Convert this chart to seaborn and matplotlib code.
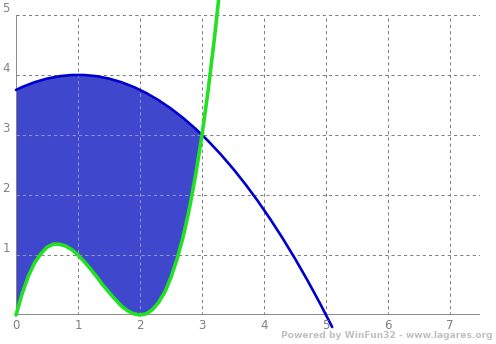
import matplotlib
matplotlib.use("Agg")
import matplotlib.pyplot as plt
import seaborn as sns
import pandas as pd
import numpy as np

# ---- data ----
x_blue = [0.0, 0.1, 0.2, 0.3, 0.4, 0.5, 0.6, 0.7, 0.8, 0.9,
          1.0, 1.1, 1.2, 1.3, 1.4, 1.5, 1.6, 1.7, 1.8, 1.9,
          2.0, 2.1, 2.2, 2.3, 2.4, 2.5, 2.6, 2.7, 2.8, 2.9,
          3.0, 3.1, 3.2, 3.3, 3.4, 3.5, 3.6, 3.7, 3.8, 3.9,
          4.0, 4.1, 4.2, 4.3, 4.4, 4.5, 4.6, 4.7, 4.8, 4.9,
          5.0, 5.1]
y_blue = [3.75, 3.80, 3.84, 3.88, 3.91, 3.94, 3.96, 3.98, 3.99, 4.00,
          4.00, 4.00, 3.99, 3.98, 3.96, 3.94, 3.91, 3.88, 3.84, 3.80,
          3.75, 3.70, 3.64, 3.58, 3.51, 3.44, 3.36, 3.28, 3.19, 3.10,
          3.00, 2.90, 2.79, 2.68, 2.56, 2.44, 2.31, 2.18, 2.04, 1.90,
          1.75, 1.60, 1.44, 1.28, 1.11, 0.94, 0.76, 0.58, 0.39, 0.20,
          0.00, -0.20]
x_green = [0.0, 0.1, 0.2, 0.3, 0.4, 0.5, 0.6, 0.7, 0.8, 0.9,
           1.0, 1.1, 1.2, 1.3, 1.4, 1.5, 1.6, 1.7, 1.8, 1.9,
           2.0, 2.1, 2.2, 2.3, 2.4, 2.5, 2.6, 2.7, 2.8, 2.9,
           3.0, 3.1, 3.2, 3.27]
y_green = [0.00, 0.36, 0.65, 0.87, 1.02, 1.13, 1.18, 1.18, 1.15, 1.09,
           1.00, 0.89, 0.77, 0.64, 0.50, 0.38, 0.26, 0.15, 0.07, 0.02,
           0.00, 0.02, 0.09, 0.21, 0.38, 0.63, 0.94, 1.32, 1.79, 2.35,
           3.00, 3.75, 4.61, 5.27]
x_ticks = [0, 1, 2, 3, 4, 5, 6, 7]
y_ticks = [1, 2, 3, 4, 5]
watermark = "Powered by WinFun32 - www.lagares.org"

sns.set_style("white")
plt.rcParams['font.family'] = ['DejaVu Sans']

W, H = 496, 344
XMAX, YMAX = 7.484, 5.25
fig = plt.figure(figsize=(W / 100, H / 100), dpi=100)
fig.patch.set_facecolor("white")
ax = fig.add_axes([16 / W, 29 / H, 464 / W, 315 / H])
ax.set_xlim(0, XMAX)
ax.set_ylim(0, YMAX)
for s in ax.spines.values():
    s.set_visible(False)
ax.set_xticks([])
ax.set_yticks([])
ax.patch.set_alpha(0)

# filled region between the curves from 0 to 3
n_fill = 31
fill = ax.fill_between(x_green[:n_fill], y_green[:n_fill], y_blue[:n_fill],
                       color="#3f48cc", linewidth=0, zorder=1)

# grid (gray on white, lighter where it crosses the fill)
grid_kw = dict(linestyle=(0, (3, 3)), linewidth=0.75, zorder=2)
ax.vlines(x_ticks[1:], 0, 5, color="#808080", **grid_kw)
ax.hlines(y_ticks, 0, XMAX, color="#808080", **grid_kw)
clip_path = fill.get_paths()[0]
v2 = ax.vlines(x_ticks[1:], 0, 5, color="#8a8fd6", **{**grid_kw, "zorder": 2.5})
h2 = ax.hlines(y_ticks, 0, XMAX, color="#8a8fd6", **{**grid_kw, "zorder": 2.5})
v2.set_clip_path(clip_path, ax.transData)
h2.set_clip_path(clip_path, ax.transData)

# axes lines
ax.plot([0, 0], [0, 5], color="#808080", linewidth=1.3, zorder=3, solid_capstyle="butt")
ax.plot([0, XMAX], [0, 0], color="#808080", linewidth=1.3, zorder=3, solid_capstyle="butt")

# curves
df_b = pd.DataFrame({"x": x_blue, "y": y_blue})
df_g = pd.DataFrame({"x": x_green, "y": y_green})
sns.lineplot(data=df_b, x="x", y="y", ax=ax, color="#0000cc", linewidth=1.9,
             sort=False, estimator=None, zorder=4, clip_on=False)
sns.lineplot(data=df_g, x="x", y="y", ax=ax, color="#22e022", linewidth=2.6,
             sort=False, estimator=None, zorder=5, clip_on=False)
ax.set_xlabel("")
ax.set_ylabel("")

# tick labels
for t in x_ticks:
    ax.text(t, -0.17, str(t), ha="center", va="center", fontsize=8.5,
            color="#808080", zorder=6)
for t in y_ticks:
    ax.text(-0.16, t + 0.11, str(t), ha="center", va="center", fontsize=8.5,
            color="#808080", zorder=6, clip_on=False)

wm = fig.text(493 / W, 1 - 336 / H, watermark, ha="right", va="center",
              fontsize=7.0, fontweight="bold", color="#c0c0c0")
fig.canvas.draw()
w = wm.get_window_extent().width
wm.set_fontsize(7.0 * 213.0 / w)

fig.savefig("out.png", dpi=100, facecolor="white")
